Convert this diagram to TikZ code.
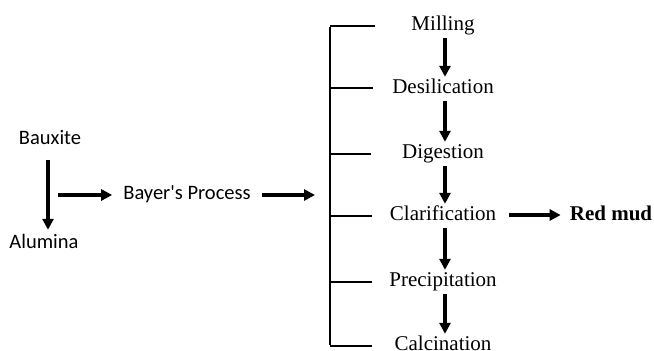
\documentclass[tikz,border=0pt]{standalone}
\usepackage{fontspec}
\setmainfont{Liberation Serif}
\newfontfamily\leftfont{Carlito}
\usetikzlibrary{arrows.meta}
\begin{document}
\begin{tikzpicture}[x=1pt,y=-1pt,
  arr/.style={line width=3.5pt,-{Triangle[length=11pt,width=11pt]}},
  brk/.style={line width=2.2pt},
  stepbox/.style={font=\fontsize{21}{24}\selectfont,inner sep=0pt,text height=15pt,text depth=5pt},
  lbl/.style={font=\leftfont\fontsize{20.5}{24}\selectfont,inner sep=0pt,text height=14pt,text depth=4pt}]
\useasboundingbox (0,0) rectangle (654,351);
% left side
\node[lbl] (bx) at (50,139) {Bauxite};
\node[lbl] (al) at (44,243) {Alumina};
\node[lbl] (by) at (187,194) {Bayer's Process};
\coordinate (s0) at (58,195);
\coordinate (bk) at (330,195);
\draw[arr,shorten <=12pt,shorten >=4pt] ([xshift=-2pt]bx.south) -- ([xshift=-2pt]bx.south |- al.north);
\draw[arr,shorten >=11pt] (s0) -- (s0 -| by.west);
\draw[arr,shorten <=11pt,shorten >=15pt] (by.east |- bk) -- (bk);
% bracket
\coordinate (t1) at (330,26);
\coordinate (t2) at (330,88);
\coordinate (t3) at (330,154);
\coordinate (t4) at (330,216);
\coordinate (t5) at (330,282);
\coordinate (t6) at (330,346);
\draw[brk] ([yshift=-1.1pt]t1) -- ([yshift=1.1pt]t6);
\draw[brk] (t1) -- ++(45,0);
\draw[brk] (t2) -- ++(43,0);
\draw[brk] (t3) -- ++(41,0);
\draw[brk] (t4) -- ++(42,0);
\draw[brk] (t5) -- ++(42,0);
\draw[brk] (t6) -- ++(42,0);
% steps
\node[stepbox] (m) at (443,25) {Milling};
\node[stepbox] (d) at (443,88) {Desilication};
\node[stepbox] (g) at (443,153) {Digestion};
\node[stepbox] (c) at (443,215) {Clarification};
\node[stepbox] (p) at (443,281) {Precipitation};
\node[stepbox] (n) at (443,345) {Calcination};
\node[stepbox,font=\bfseries\fontsize{21}{24}\selectfont] (r) at (611,215) {Red mud};
\foreach \a/\b in {m/d,d/g,g/c,c/p,p/n}{
  \draw[arr,shorten <=3pt,shorten >=1pt] ([xshift=2pt]\a.south) -- ([xshift=2pt]\b.north);
}
\draw[arr,shorten <=13pt,shorten >=9pt] (c.east) -- (r.west);
\end{tikzpicture}
\end{document}
